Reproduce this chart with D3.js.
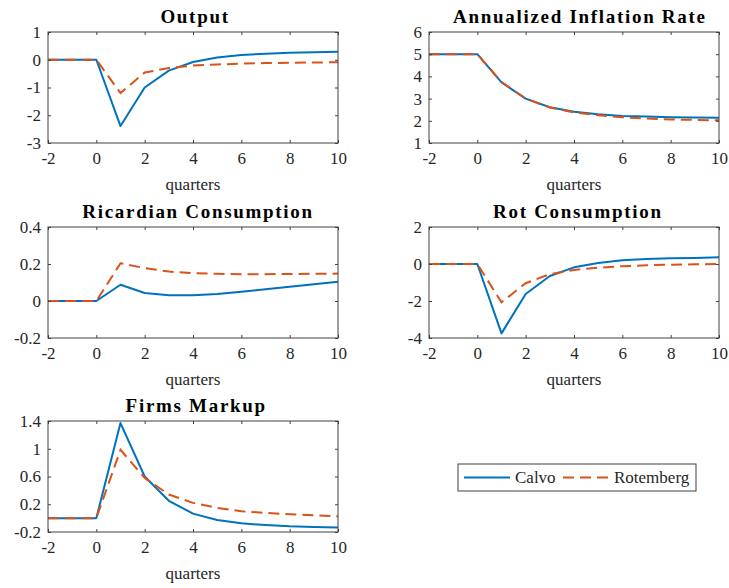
<!DOCTYPE html>
<html>
<head>
<meta charset="utf-8">
<script src="https://cdn.jsdelivr.net/npm/d3@7"></script>
<style>
  html, body { margin: 0; padding: 0; background: #fff; }
  svg { display: block; }
  svg text { font-family: "Liberation Serif", "Times New Roman", serif !important; }
</style>
</head>
<body>
<svg id="chart" width="729" height="588"></svg>
<script>
// ---------- DATA ----------
const quarters = [-2, -1, 0, 1, 2, 3, 4, 5, 6, 7, 8, 9, 10];
const xTicks = [-2, 0, 2, 4, 6, 8, 10];
const seriesNames = ["Calvo", "Rotemberg"];

const outputCalvo     = [0, 0, 0, -2.39, -1.00, -0.39, -0.08, 0.08, 0.17, 0.22, 0.25, 0.27, 0.29];
const outputRotemberg = [0, 0, 0, -1.20, -0.46, -0.30, -0.21, -0.17, -0.14, -0.12, -0.11, -0.10, -0.09];
const outputTicks = [-3, -2, -1, 0, 1];

const inflationCalvo     = [5, 5, 5, 3.73, 3.00, 2.61, 2.41, 2.29, 2.22, 2.19, 2.16, 2.15, 2.14];
const inflationRotemberg = [5, 5, 5, 3.75, 3.00, 2.60, 2.38, 2.25, 2.16, 2.10, 2.06, 2.04, 2.02];
const inflationTicks = [1, 2, 3, 4, 5, 6];

const ricardianCalvo     = [0, 0, 0, 0.088, 0.043, 0.031, 0.031, 0.038, 0.050, 0.063, 0.077, 0.090, 0.104];
const ricardianRotemberg = [0, 0, 0, 0.204, 0.178, 0.159, 0.151, 0.147, 0.145, 0.145, 0.146, 0.147, 0.148];
const ricardianTicks = [-0.2, 0, 0.2, 0.4];

const rotCalvo     = [0, 0, 0, -3.75, -1.62, -0.65, -0.18, 0.05, 0.20, 0.27, 0.31, 0.33, 0.36];
const rotRotemberg = [0, 0, 0, -2.07, -1.04, -0.55, -0.32, -0.20, -0.12, -0.07, -0.04, -0.02, 0.00];
const rotTicks = [-4, -2, 0, 2];

const markupCalvo     = [0, 0, 0, 1.37, 0.60, 0.25, 0.065, -0.026, -0.075, -0.10, -0.118, -0.127, -0.135];
const markupRotemberg = [0, 0, 0, 0.985, 0.58, 0.34, 0.22, 0.147, 0.10, 0.075, 0.055, 0.04, 0.027];
const markupTicks = [-0.2, 0.2, 0.6, 1, 1.4];

const panels = [
  { title: "Output", calvo: outputCalvo, rotemberg: outputRotemberg, ticks: outputTicks, col: 0, row: 0 },
  { title: "Annualized Inflation Rate", calvo: inflationCalvo, rotemberg: inflationRotemberg, ticks: inflationTicks, col: 1, row: 0 },
  { title: "Ricardian Consumption", calvo: ricardianCalvo, rotemberg: ricardianRotemberg, ticks: ricardianTicks, col: 0, row: 1 },
  { title: "Rot Consumption", calvo: rotCalvo, rotemberg: rotRotemberg, ticks: rotTicks, col: 1, row: 1 },
  { title: "Firms Markup", calvo: markupCalvo, rotemberg: markupRotemberg, ticks: markupTicks, col: 0, row: 2 }
];

// ---------- LAYOUT ----------
const colLeft = [48, 429];
const plotW = 290;
const rowTop = [32, 227, 421];
const plotH = 111;
const blue = "#0072BD";
const orange = "#D95319";
const axisColor = "#404040";
const textColor = "#262626";
const tickLen = 3;
const serif = '"Liberation Serif", "Times New Roman", serif';

const svg = d3.select("#chart");

panels.forEach(p => {
  const x0 = colLeft[p.col], y0 = rowTop[p.row];
  const g = svg.append("g").attr("transform", `translate(${x0},${y0})`);
  const x = d3.scaleLinear().domain([-2, 10]).range([0, plotW]);
  const y = d3.scaleLinear().domain(d3.extent(p.ticks)).range([plotH, 0]);

  // lines
  const line = d3.line().x((d, i) => x(quarters[i])).y(d => y(d));
  g.append("path").datum(p.calvo).attr("d", line)
    .attr("fill", "none").attr("stroke", blue).attr("stroke-width", 2).attr("stroke-linejoin", "round");
  g.append("path").datum(p.rotemberg).attr("d", line)
    .attr("fill", "none").attr("stroke", orange).attr("stroke-width", 2).attr("stroke-dasharray", "11,6");

  // axes (ticks inward)
  const fmt = d => String(d);
  const xb = d3.axisBottom(x).tickValues(xTicks).tickSizeInner(-tickLen).tickSizeOuter(0).tickPadding(9).tickFormat(fmt);
  const xt = d3.axisTop(x).tickValues(xTicks).tickSizeInner(-tickLen).tickSizeOuter(0).tickFormat("");
  const yl = d3.axisLeft(y).tickValues(p.ticks).tickSizeInner(-tickLen).tickSizeOuter(0).tickPadding(7).tickFormat(fmt);
  const yr = d3.axisRight(y).tickValues(p.ticks).tickSizeInner(-tickLen).tickSizeOuter(0).tickFormat("");

  const ax = [
    g.append("g").attr("transform", `translate(0,${plotH})`).call(xb),
    g.append("g").call(xt),
    g.append("g").call(yl),
    g.append("g").attr("transform", `translate(${plotW},0)`).call(yr)
  ];
  ax.forEach(a => {
    a.attr("font-family", serif).attr("font-size", 17);
    a.select(".domain").remove();
    a.selectAll("line").attr("stroke", axisColor).attr("stroke-width", 1);
    a.selectAll("text").attr("fill", textColor);
  });
  g.append("rect").attr("x", 0).attr("y", 0).attr("width", plotW).attr("height", plotH)
    .attr("fill", "none").attr("stroke", axisColor).attr("stroke-width", 1);

  // x label
  g.append("text").attr("x", plotW / 2).attr("y", plotH + 47).attr("text-anchor", "middle")
    .attr("font-family", serif).attr("fill", textColor).attr("font-size", 17).text("quarters");

  // title
  g.append("text").attr("x", plotW / 2 + 0.85 + p.title.length * 0.2).attr("y", -9).attr("text-anchor", "middle")
    .attr("font-family", serif).attr("fill", "#000").attr("font-size", 19).attr("font-weight", "bold")
    .style("letter-spacing", "1.7px").text(p.title);
});

// ---------- LEGEND ----------
const lg = svg.append("g").attr("transform", "translate(458,464)");
lg.append("rect").attr("x", 0).attr("y", 0).attr("width", 238).attr("height", 27)
  .attr("fill", "#fff").attr("stroke", axisColor).attr("stroke-width", 1);
const legendItems = [
  { name: seriesNames[0], color: blue, dash: null, lx: 6, tx: 57 },
  { name: seriesNames[1], color: orange, dash: "11,6", lx: 105, tx: 156 }
];
legendItems.forEach(it => {
  lg.append("line").attr("x1", it.lx).attr("x2", it.lx + 46).attr("y1", 13.5).attr("y2", 13.5)
    .attr("stroke", it.color).attr("stroke-width", 2).attr("stroke-dasharray", it.dash);
  lg.append("text").attr("x", it.tx).attr("y", 19).attr("fill", textColor)
    .attr("font-family", serif).attr("font-size", 17).text(it.name);
});
</script>
</body>
</html>
